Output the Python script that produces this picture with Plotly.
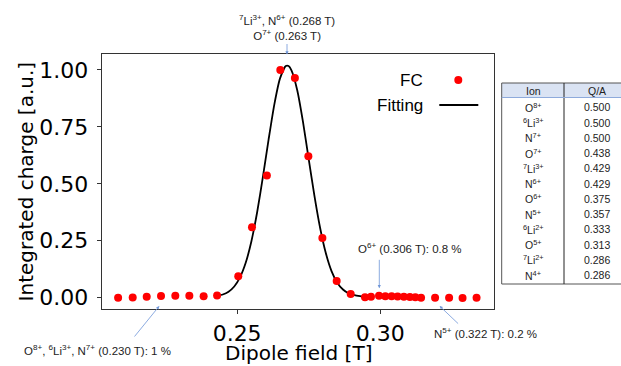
import plotly.graph_objects as go

# ---------------- data ----------------
field_T = [0.2084, 0.2135, 0.2184, 0.2234, 0.2284, 0.2333, 0.2383, 0.2430,
           0.2504, 0.2552, 0.2604, 0.2651, 0.2702, 0.2749, 0.2798, 0.2848, 0.2897,
           0.2947, 0.2968, 0.2996, 0.3018, 0.3040, 0.3061, 0.3083, 0.3104, 0.3123, 0.3143,
           0.3192, 0.3241, 0.3288, 0.3337]
fc_charge = [0.000, 0.001, 0.004, 0.007, 0.009, 0.009, 0.006, 0.010,
             0.094, 0.309, 0.536, 1.000, 0.965, 0.621, 0.262, 0.073, 0.016,
             0.002, 0.004, 0.008, 0.006, 0.006, 0.005, 0.004, 0.003, 0.002, 0.000,
             0.000, 0.000, -0.001, 0.000]

fit_field_T = [0.243, 0.245, 0.247, 0.249, 0.251, 0.253, 0.255, 0.257, 0.259, 0.261,
               0.263, 0.265, 0.267, 0.268, 0.269, 0.271, 0.273, 0.275, 0.277, 0.279,
               0.281, 0.283, 0.285, 0.287, 0.289, 0.291, 0.293, 0.2945]
fit_charge = [0.008, 0.014, 0.026, 0.049, 0.089, 0.153, 0.248, 0.375, 0.529, 0.694,
              0.848, 0.963, 1.017, 1.017, 0.998, 0.912, 0.774, 0.611, 0.449, 0.307,
              0.196, 0.117, 0.066, 0.036, 0.019, 0.011, 0.007, 0.005]

x_title = "Dipole field [T]"
y_title = "Integrated charge [a.u.]"
x_tick_vals = [0.25, 0.30]
x_tick_text = ["0.25", "0.30"]
y_tick_vals = [0.0, 0.25, 0.5, 0.75, 1.0]
y_tick_text = ["0.00", "0.25", "0.50", "0.75", "1.00"]

table_header = ["Ion", "Q/A"]
table_ions = ["O<sup>8+</sup>", "<sup>6</sup>Li<sup>3+</sup>", "N<sup>7+</sup>", "O<sup>7+</sup>",
              "<sup>7</sup>Li<sup>3+</sup>", "N<sup>6+</sup>", "O<sup>6+</sup>", "N<sup>5+</sup>",
              "<sup>6</sup>Li<sup>2+</sup>", "O<sup>5+</sup>", "<sup>7</sup>Li<sup>2+</sup>", "N<sup>4+</sup>"]
table_qa = ["0.500", "0.500", "0.500", "0.438", "0.429", "0.429",
            "0.375", "0.357", "0.333", "0.313", "0.286", "0.286"]

# ---------------- layout helpers (pixel -> paper) ----------------
W, H = 621, 366
def px(x):
    return x / W
def py(y):
    return 1 - y / H

TICK_FONT = dict(family="DejaVu Sans", size=22, color="black")
TITLE_FONT = dict(family="DejaVu Sans", size=20, color="black")
ANN_FONT = dict(family="Liberation Sans", size=11.5, color="#222222")
LEG_FONT = dict(family="Liberation Sans", size=17, color="black")
TAB_FONT = dict(family="Liberation Sans", size=10.5, color="#222222")
ARROW_COLOR = "#6f96d8"

fig = go.Figure()

fig.add_trace(go.Scatter(
    x=fit_field_T, y=fit_charge, mode="lines", name="Fitting",
    line=dict(color="black", width=1.8, shape="spline", smoothing=0.6),
    showlegend=False, hoverinfo="skip"))

fig.add_trace(go.Scatter(
    x=field_T, y=fc_charge, mode="markers", name="FC",
    marker=dict(color="#ff0000", size=8, line=dict(width=0)),
    showlegend=False))

annotations = [
    # x-axis title
    dict(x=px(298), y=py(353), xref="paper", yref="paper", showarrow=False,
         text=x_title, font=TITLE_FONT, xanchor="center", yanchor="middle", borderpad=0),
    # top label and arrow
    dict(x=px(287), y=py(27.5), xref="paper", yref="paper", showarrow=False,
         text="<sup>7</sup>Li<sup>3+</sup>, N<sup>6+</sup> (0.268 T)<br>O<sup>7+</sup> (0.263 T)",
         font=ANN_FONT, xanchor="center", yanchor="middle", align="center"),
    dict(x=px(287), y=py(54.5), xref="paper", yref="paper", text="", showarrow=True,
         ax=0, ay=-12, arrowhead=2, arrowsize=0.8, arrowwidth=0.8, arrowcolor=ARROW_COLOR),
    # O6+
    dict(x=px(409.5), y=py(248.3), xref="paper", yref="paper", showarrow=False,
         text="O<sup>6+</sup> (0.306 T): 0.8 %", font=ANN_FONT, xanchor="center", yanchor="middle"),
    dict(x=px(379.3), y=py(288.3), xref="paper", yref="paper", text="", showarrow=True,
         ax=0, ay=-30, arrowhead=2, arrowsize=0.8, arrowwidth=0.8, arrowcolor=ARROW_COLOR),
    # N5+
    dict(x=px(485), y=py(333), xref="paper", yref="paper", showarrow=False,
         text="N<sup>5+</sup> (0.322 T): 0.2 %", font=ANN_FONT, xanchor="center", yanchor="middle"),
    dict(x=px(439.6), y=py(306), xref="paper", yref="paper", text="", showarrow=True,
         ax=20, ay=19, arrowhead=2, arrowsize=0.8, arrowwidth=0.8, arrowcolor=ARROW_COLOR),
    # O8+
    dict(x=px(97.5), y=py(350), xref="paper", yref="paper", showarrow=False,
         text="O<sup>8+</sup>, <sup>6</sup>Li<sup>3+</sup>, N<sup>7+</sup> (0.230 T): 1 %",
         font=ANN_FONT, xanchor="center", yanchor="middle"),
    dict(x=px(159.3), y=py(306), xref="paper", yref="paper", text="", showarrow=True,
         ax=-26, ay=32, arrowhead=2, arrowsize=0.8, arrowwidth=0.8, arrowcolor=ARROW_COLOR),
    # manual legend (text left, symbol right)
    dict(x=px(424.5), y=py(80), xref="paper", yref="paper", showarrow=False,
         text="FC", font=LEG_FONT, xanchor="right", yanchor="middle"),
    dict(x=px(424.5), y=py(105), xref="paper", yref="paper", showarrow=False,
         text="Fitting", font=LEG_FONT, xanchor="right", yanchor="middle"),
]

# ---------------- table (right side) ----------------
TAB_L, TAB_R, TAB_MID = 501.7, 621.5, 564.0
TAB_TOP, HEAD_BOT, TAB_BOT = 83.0, 97.5, 284.0
COL_X = [533.0, 596.7]
ROW0_Y, ROW_STEP = 107.3, 15.25

for j, h in enumerate(table_header):
    annotations.append(dict(x=px(COL_X[j]), y=py(90.5), xref="paper", yref="paper",
                            text=h, showarrow=False, font=TAB_FONT,
                            xanchor="center", yanchor="middle"))
for i, (ion, qa) in enumerate(zip(table_ions, table_qa)):
    yy = py(ROW0_Y + i * ROW_STEP)
    annotations.append(dict(x=px(COL_X[0]), y=yy, xref="paper", yref="paper",
                            text=ion, showarrow=False, font=TAB_FONT,
                            xanchor="center", yanchor="middle"))
    annotations.append(dict(x=px(COL_X[1]), y=yy, xref="paper", yref="paper",
                            text=qa, showarrow=False, font=TAB_FONT,
                            xanchor="center", yanchor="middle"))

r = 4
shapes = [
    # legend symbols
    dict(type="circle", xref="paper", yref="paper",
         x0=px(458.3 - r), x1=px(458.3 + r), y0=py(80 + r), y1=py(80 - r),
         fillcolor="#ff0000", line=dict(width=0)),
    dict(type="line", xref="paper", yref="paper",
         x0=px(439.3), x1=px(478.3), y0=py(105), y1=py(105),
         line=dict(color="black", width=1.8)),
    # table header fill and borders
    dict(type="rect", xref="paper", yref="paper", layer="below",
         x0=px(TAB_L), x1=px(TAB_R), y0=py(HEAD_BOT), y1=py(TAB_TOP),
         fillcolor="#dae3f3", line=dict(width=0)),
    dict(type="rect", xref="paper", yref="paper",
         x0=px(TAB_L), x1=px(TAB_R), y0=py(TAB_BOT), y1=py(TAB_TOP),
         line=dict(color="#555555", width=1)),
    dict(type="line", xref="paper", yref="paper",
         x0=px(TAB_MID), x1=px(TAB_MID), y0=py(TAB_BOT), y1=py(TAB_TOP),
         line=dict(color="#222222", width=1)),
    dict(type="line", xref="paper", yref="paper",
         x0=px(TAB_L), x1=px(TAB_R), y0=py(HEAD_BOT), y1=py(HEAD_BOT),
         line=dict(color="#8eaadb", width=1.2)),
]

fig.update_layout(
    width=W, height=H, autosize=False,
    margin=dict(l=0, r=0, t=0, b=0),
    paper_bgcolor="white", plot_bgcolor="white",
    showlegend=False,
    annotations=annotations, shapes=shapes,
    xaxis=dict(domain=[px(101.8), px(494.3)], range=[0.2027, 0.3399],
               tickvals=x_tick_vals, ticktext=x_tick_text, tickfont=TICK_FONT,
               ticks="outside", ticklen=4, tickcolor="#333333", tickwidth=1,
               showline=True, linecolor="#333333", linewidth=1.2, mirror=True,
               showgrid=False, zeroline=False, automargin=False),
    yaxis=dict(domain=[py(309.3), py(54)], range=[-0.051, 1.070],
               tickvals=y_tick_vals, ticktext=y_tick_text, tickfont=TICK_FONT,
               ticks="outside", ticklen=4, tickcolor="#333333", tickwidth=1,
               ticklabelstandoff=4,
               showline=True, linecolor="#333333", linewidth=1.2, mirror=True,
               showgrid=False, zeroline=False, automargin=False,
               title=dict(text=y_title, font=TITLE_FONT, standoff=0)),
)

fig.write_html("out.html",
               config={"displayModeBar": False},
               post_script="document.body.style.margin='0';document.body.style.padding='0';")
